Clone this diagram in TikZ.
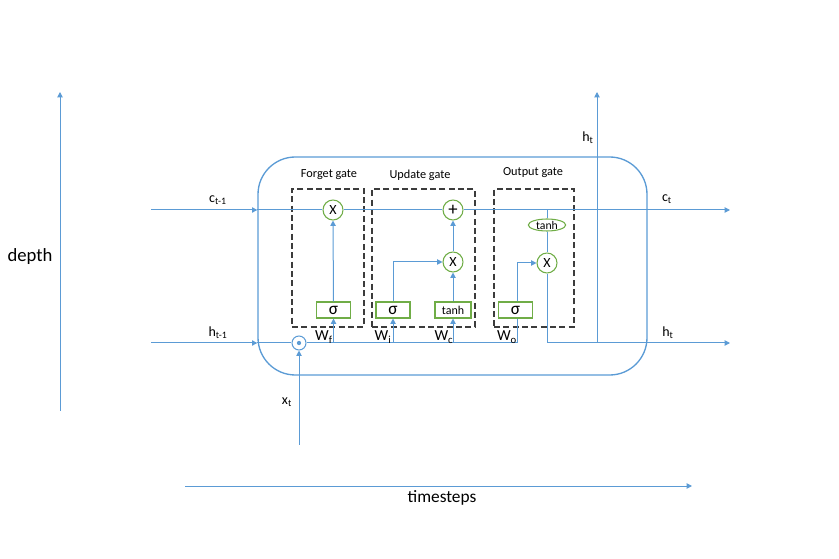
\documentclass[tikz,border=0pt]{standalone}
\usepackage{fontspec}
\setmainfont{Carlito}
\usetikzlibrary{arrows.meta,shapes.geometric}
\definecolor{lblue}{RGB}{91,155,213}
\definecolor{lgreen}{RGB}{112,173,71}
\definecolor{dgray}{RGB}{60,60,60}
\begin{document}
\begin{tikzpicture}[x=0.75pt,y=-0.75pt,
  flow/.style={draw=lblue, line width=0.75pt},
  arr/.style={flow, -{Triangle[length=4pt,width=4pt]}},
  op/.style={circle, draw=lgreen, line width=0.8pt, minimum size=15pt, inner sep=0pt, font=\fontsize{10.5}{11}\selectfont},
  actbox/.style={rectangle, draw=lgreen, line width=0.8pt, minimum width=25.5pt, minimum height=12pt, inner sep=0pt},
  gatebox/.style={rectangle, draw=dgray, dash pattern=on 4.5pt off 2.5pt, line width=1pt, inner sep=0pt},
  gatelbl/.style={font=\fontsize{9.2}{10}\selectfont, inner sep=0pt},
  lbl/.style={font=\fontsize{10.5}{12}\selectfont, inner sep=0pt},
  wlbl/.style={font=\fontsize{11.5}{13}\selectfont, inner sep=0pt},
  big/.style={inner sep=0pt}
]
\useasboundingbox (0,0) rectangle (839,559);

% cell
\node[draw=lblue, line width=1pt, rounded corners=28pt, minimum width=291.75pt, minimum height=163.5pt] (cell) at (452.5,266) {};

% gate boxes
\node[gatebox, minimum width=54pt, minimum height=103.5pt] (fbox) at (328,258) {};
\node[gatebox, minimum width=77.25pt, minimum height=103.5pt] (ubox) at (423.5,258) {};
\node[gatebox, minimum width=60pt, minimum height=103.5pt] (obox) at (534,258) {};
\node[gatelbl] (flbl) at (329,175) {Forget gate};
\node[gatelbl] (ulbl) at (420,175) {Update gate};
\node[gatelbl] (olbl) at (533,173) {Output gate};

% operators
\node[op] (fx) at (333,210) {X};
\node[op, font=\fontsize{14}{14}\selectfont] (plus) at (453,210) {+};
\node[op] (ux) at (453,262) {X};
\node[op] (ox) at (547,263) {X};
\node[ellipse, draw=lgreen, line width=0.8pt, minimum width=28pt, minimum height=9pt, inner sep=0pt, font=\fontsize{8.8}{9}\selectfont] (tanho) at (547,225) {tanh};

% activation boxes
\node[actbox, font=\fontsize{13}{13}\selectfont] (sigf) at (333.5,310) {σ};
\node[actbox, font=\fontsize{13}{13}\selectfont] (sigi) at (393,310) {σ};
\node[actbox, minimum width=27pt, font=\fontsize{9}{9}\selectfont] (tanhc) at (453,310) {tanh};
\node[actbox, font=\fontsize{13}{13}\selectfont] (sigo) at (515.5,310) {σ};

% input dot
\node[circle, draw=lblue, line width=0.8pt, minimum size=10.5pt, inner sep=0pt] (dot) at (299,343) {};
\fill[lblue] (dot.center) circle (1.6pt);

% coordinates
\coordinate (cin) at (151,210);
\coordinate (cout) at (730,210);
\coordinate (hin) at (151,343);
\coordinate (hout) at (730,343);
\coordinate (xin) at (299,445);
\coordinate (wf) at (333.5,343);
\coordinate (wi) at (393,343);
\coordinate (wc) at (453,343);
\coordinate (wo) at (517,343);
\coordinate (ctap) at (547,210);
\coordinate (hjoin) at (597,343);
\coordinate (htop) at (597,92);
\coordinate (dbot) at (60,411);
\coordinate (dtop) at (60,92);
\coordinate (tl) at (185,486);
\coordinate (tr) at (692,486);

% cell state line
\draw[arr] (cin) -- (cin -| cell.west);
\draw[flow] (cin -| cell.west) -- (fx.west);
\draw[flow] (fx.east) -- (plus.west);
\draw[arr] (plus.east) -- (cout);

% hidden/input line
\draw[arr] (hin) -- (hin -| cell.west);
\draw[flow] (hin -| cell.west) -- (dot.west);
\draw[flow] (dot.east) -- (wo);
\draw[arr] (xin) -- (dot.south);

% forget gate
\draw[arr] (wf) -- (sigf.south);
\draw[arr] (sigf.north) -- (fx.south);

% update gate
\draw[arr] (wi) -- (sigi.south);
\draw[arr] (sigi.north) |- (ux.west);
\draw[arr] (wc) -- (tanhc.south);
\draw[arr] (tanhc.north) -- (ux.south);
\draw[arr] (ux.north) -- (plus.south);

% output gate
\draw[flow] (wo) -- (sigo.south -| wo);
\draw[arr] (sigo.north -| wo) |- (ox.west);
\draw[flow] (ctap) -- (tanho.north);
\draw[flow] (tanho.south) -- (ox.north);
\draw[arr] (ox.south) |- (hout);
\draw[arr] (hjoin) -- (htop);

% axes
\draw[arr] (dbot) -- (dtop);
\draw[arr] (tl) -- (tr);
\node[big, font=\fontsize{14}{16}\selectfont] (depth) at (30,257) {depth};
\node[big, font=\fontsize{13}{15}\selectfont] (ts) at (442,498) {timesteps};

% labels
\node[lbl] (lcin) at (218,200) {c\textsubscript{t-1}};
\node[lbl] (lhin) at (218,333) {h\textsubscript{t-1}};
\node[lbl] (lcout) at (667,199) {c\textsubscript{t}};
\node[lbl] (lhout) at (668,333) {h\textsubscript{t}};
\node[lbl] (lhtop) at (588,138) {h\textsubscript{t}};
\node[lbl] (lxt) at (287,402) {x\textsubscript{t}};
\node[wlbl] (lwf) at (324,337) {W\textsubscript{f}};
\node[wlbl] (lwi) at (383,337) {W\textsubscript{i}};
\node[wlbl] (lwc) at (444,337) {W\textsubscript{c}};
\node[wlbl] (lwo) at (507,337) {W\textsubscript{o}};
\end{tikzpicture}
\end{document}
